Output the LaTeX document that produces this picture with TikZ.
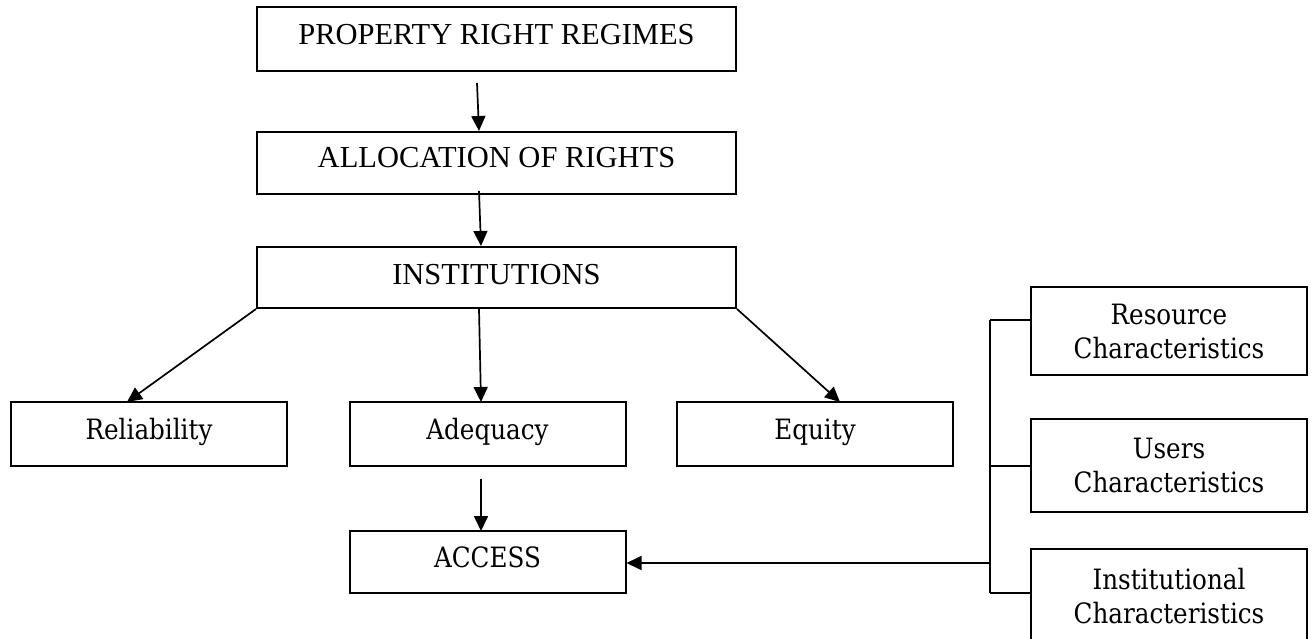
\documentclass[tikz,border=0pt]{standalone}
\usepackage{fontspec}
\usetikzlibrary{arrows.meta}
\newfontfamily\capsfont{Liberation Serif}
\newfontfamily\bodyfont{DejaVu Serif}[FakeStretch=0.88]
\begin{document}
\begin{tikzpicture}[x=1pt,y=-1pt,
  line width=2pt,
  frame/.style={draw, rectangle, inner xsep=0pt, inner ysep=0pt, align=center},
  topbox/.style={frame, minimum width=479pt, font=\capsfont\fontsize{30.5}{34}\selectfont},
  midbox/.style={frame, minimum width=276pt, text height=37pt, text depth=27pt,
                 font=\bodyfont\fontsize{28}{34}\selectfont},
  sidebox/.style={frame, minimum width=276pt, text width=276pt,
                  font=\bodyfont\fontsize{28}{34}\selectfont},
  arr/.style={-{Triangle[length=15pt,width=14pt]}, line width=1.7pt},
  wire/.style={line width=1.8pt}]
\useasboundingbox (0,0) rectangle (1315,639);

% main chain
\node[topbox, text height=38pt, text depth=26pt] (prr)   at (496.5,39)  {PROPERTY RIGHT REGIMES};
\node[topbox, text height=36pt, text depth=26pt] (alloc) at (496.5,163) {ALLOCATION OF RIGHTS};
\node[topbox, text height=37pt, text depth=24pt] (inst)  at (496.5,277.5) {INSTITUTIONS};

% criteria
\node[midbox] (rel) at (149,434)   {Reliability};
\node[midbox] (ade) at (487.5,434) {Adequacy};
\node[midbox] (equ) at (815,434)   {Equity};
\node[midbox, text height=36pt, text depth=26pt] (acc) at (487.5,562) {ACCESS};

% characteristics
\node[sidebox, minimum height=88pt] (res)  at (1169,331) {Resource\\Characteristics};
\node[sidebox, minimum height=93pt] (usr)  at (1169,465.5) {Users\\Characteristics};
\node[sidebox, minimum height=94pt] (itc)  at (1169,596) {Institutional\\Characteristics};

% free arrow ends
\coordinate (p1) at (477,83);   \coordinate (q1) at (479,131);
\coordinate (p2) at (479,191);  \coordinate (q2) at (481,246);
\coordinate (qr) at (127,402);
\coordinate (p3) at (479,309);  \coordinate (q3) at (481,402);
\coordinate (qe) at (840,402);
\coordinate (p4) at (481,479);  \coordinate (q4) at (481,531);
\coordinate (bt) at (990,320);
\coordinate (bu) at (990,466);
\coordinate (bb) at (990,593);
\coordinate (ba) at (990,563);

\draw[arr] (p1) -- (q1);
\draw[arr] (p2) -- (q2);
\draw[arr] (inst.south west) -- (qr);
\draw[arr] (p3) -- (q3);
\draw[arr] (inst.south east) -- (qe);
\draw[arr] (p4) -- (q4);

% bracket feeding ACCESS
\draw[wire] (bt) -- (bb);
\draw[wire] (bt) -- (bt -| res.west);
\draw[wire] (bu) -- (bu -| usr.west);
\draw[wire] (bb) -- (bb -| itc.west);
\draw[arr] (ba) -- (ba -| acc.east);
\end{tikzpicture}
\end{document}
